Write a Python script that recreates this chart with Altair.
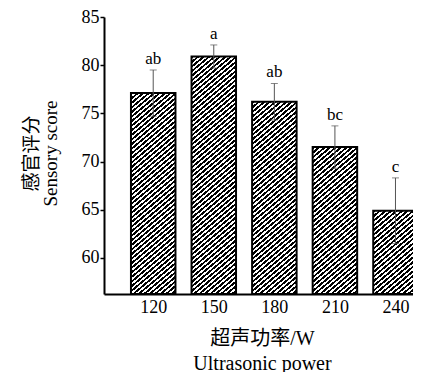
import math
import altair as alt
import pandas as pd

# ---- data ----
power = [120, 150, 180, 210, 240]
score = [77.1, 80.9, 76.2, 71.5, 64.9]
sd = [2.4, 1.2, 1.9, 2.2, 3.4]
letters = ["ab", "a", "ab", "bc", "c"]
y_ticks = [60, 65, 70, 75, 80, 85]

# ---- layout / style ----
Y_MIN, Y_MAX = 56.25, 85
X_MIN, X_MAX = 98.1, 246.2
W, H = 309, 277
BAR_W = 44.5
LATIN = "Liberation Serif"
FONT = "Liberation Serif, Noto Sans CJK SC"

df = pd.DataFrame({"power": power, "score": score, "sd": sd, "letter": letters})
df["lo"] = df["score"] - df["sd"]
df["hi"] = df["score"] + df["sd"]
df["base"] = Y_MIN


def hatch(value, theta=40, period=3.5, frac=0.52):
    """Diagonal black/white stripes as a linear gradient in bbox units."""
    bh = (value - Y_MIN) / (Y_MAX - Y_MIN) * H
    t = math.radians(theta)
    A = BAR_W * math.sin(t)
    B = bh * math.cos(t)
    k = (A + B) / (A * A + B * B)
    n = max(1, round((A + B) / period))
    stops = []
    for i in range(n):
        o0, o1, o2 = i / n, (i + frac) / n, (i + 1) / n
        stops += [
            {"offset": o0, "color": "#000000"},
            {"offset": o1, "color": "#000000"},
            {"offset": o1, "color": "#ffffff"},
            {"offset": o2, "color": "#ffffff"},
        ]
    return {"gradient": "linear", "x1": 0, "y1": 0, "x2": k * A, "y2": k * B, "stops": stops}


x_enc = alt.X(
    "power:Q",
    scale=alt.Scale(domain=[X_MIN, X_MAX], nice=False, zero=False),
    axis=alt.Axis(
        values=power, ticks=False, grid=False, labelPadding=4,
        labelFont=LATIN, labelFontSize=18, labelColor="black",
        title=["超声功率/W", "Ultrasonic power"], titleFont=FONT, titleFontSize=20,
        titleFontWeight="normal", titleColor="black", titleX=158, titleY=34,
        titleAlign="center", titleBaseline="top", titleLineHeight=25,
        domainColor="black", domainWidth=2,
    ),
)


def y_enc(field):
    return alt.Y(
        field,
        type="quantitative",
        scale=alt.Scale(domain=[Y_MIN, Y_MAX], nice=False, zero=False),
        axis=alt.Axis(
            values=y_ticks, grid=False, tickSize=4, tickWidth=1.5, tickColor="black",
            labelPadding=1, labelFont=LATIN, labelFontSize=18, labelColor="black",
            title=["感官评分", "Sensory score"], titleFont=FONT, titleFontSize=19,
            titleFontWeight="normal", titleColor="black", titleAngle=-90,
            titleX=-82, titleY=136, titleAlign="center", titleBaseline="top",
            titleLineHeight=19, domainColor="black", domainWidth=2,
        ),
    )


base = alt.Chart(df)

bars = [
    base.transform_filter(alt.datum.power == p)
    .mark_bar(size=BAR_W, fill=hatch(v), stroke="black", strokeWidth=2, clip=True)
    .encode(x=x_enc, y=y_enc("score"), y2="base")
    for p, v in zip(power, score)
]

err = base.mark_rule(color="#555555", strokeWidth=1, clip=True).encode(
    x=x_enc, y=y_enc("lo"), y2="hi"
)
cap_hi = base.mark_tick(orient="horizontal", size=7, thickness=1, color="#555555", clip=True).encode(
    x=x_enc, y=y_enc("hi")
)
cap_lo = base.mark_tick(orient="horizontal", size=7, thickness=1, color="#555555", clip=True).encode(
    x=x_enc, y=y_enc("lo")
)
labels = base.mark_text(baseline="bottom", dy=-2, fontSize=17, font=LATIN, color="black").encode(
    x=x_enc, y=y_enc("hi"), text="letter"
)

chart = (
    alt.layer(*bars, err, cap_hi, cap_lo, labels)
    .properties(
        width=W, height=H,
        autosize=alt.AutoSizeParams(type="none"),
        padding={"left": 96, "top": 9, "right": 0, "bottom": 78},
    )
    .configure_view(stroke=None)
)

chart.save("out.html", embed_options={"renderer": "svg", "actions": False})
